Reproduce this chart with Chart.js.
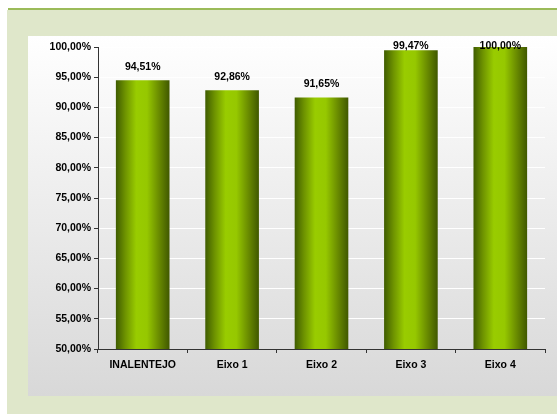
<!DOCTYPE html>
<html lang="pt">
<head>
  <meta charset="UTF-8">
  <title>Taxa de execução por eixo</title>
  <script src="https://cdn.jsdelivr.net/npm/chart.js"></script>
  <style>
    html, body { margin: 0; padding: 0; background: #ffffff; }
    #wrap { width: 557px; height: 414px; position: relative; }
    canvas { display: block; }
  </style>
</head>
<body>
  <div id="wrap"><canvas id="chart" width="557" height="414"></canvas></div>

  <script>
    const categories = ['INALENTEJO', 'Eixo 1', 'Eixo 2', 'Eixo 3', 'Eixo 4'];
    const values = [94.51, 92.86, 91.65, 99.47, 100.00];
    const yMin = 50;
    const yMax = 100;
    const yStep = 5;

    const pct = v => v.toFixed(2).replace('.', ',') + '%';
    const FONT = "'Liberation Sans', Arial, sans-serif";

    // frame: green band with a top rule, then a white-to-grey panel
    const background = {
      id: 'background',
      beforeDraw(chart) {
        const ctx = chart.ctx;
        const w = chart.width, h = chart.height;
        ctx.save();
        ctx.fillStyle = '#ffffff';
        ctx.fillRect(0, 0, w, h);
        ctx.fillStyle = '#dfe7ca';
        ctx.fillRect(7, 10, w - 7, h - 10);
        ctx.fillStyle = '#9bbb59';
        ctx.fillRect(8, 8, w - 8, 2);
        const g = ctx.createLinearGradient(0, 36, 0, 396);
        g.addColorStop(0, '#ffffff');
        g.addColorStop(1, '#d8d8d8');
        ctx.fillStyle = g;
        ctx.fillRect(28, 36, w - 28, 360);
        ctx.restore();
      }
    };

    // value labels over the bars, kept inside the plot area
    const valueLabels = {
      id: 'valueLabels',
      afterDatasetsDraw(chart) {
        const ctx = chart.ctx;
        const meta = chart.getDatasetMeta(0);
        ctx.save();
        ctx.font = 'bold 10.5px ' + FONT;
        ctx.fillStyle = '#000000';
        ctx.textAlign = 'center';
        ctx.textBaseline = 'middle';
        meta.data.forEach((bar, i) => {
          const y = Math.max(bar.y - 13.5, chart.chartArea.top - 1);
          ctx.fillText(pct(values[i]), bar.x, y);
        });
        ctx.restore();
      }
    };

    function barGradient(c) {
      const chart = c.chart;
      const xs = chart.scales.x;
      if (!xs || !chart.chartArea) return '#8cbf00';
      const cx = xs.getPixelForValue(c.dataIndex);
      const w = (xs.width / categories.length) * 0.6;
      const g = chart.ctx.createLinearGradient(cx - w / 2, 0, cx + w / 2, 0);
      g.addColorStop(0, '#3f5c00');
      g.addColorStop(0.18, '#6f9400');
      g.addColorStop(0.38, '#99cc00');
      g.addColorStop(0.58, '#96c800');
      g.addColorStop(0.8, '#6a8c00');
      g.addColorStop(1, '#405800');
      return g;
    }

    new Chart(document.getElementById('chart'), {
      type: 'bar',
      data: {
        labels: categories,
        datasets: [{
          data: values,
          backgroundColor: barGradient,
          borderWidth: 0,
          categoryPercentage: 1,
          barPercentage: 0.6
        }]
      },
      options: {
        responsive: false,
        animation: false,
        layout: { padding: { left: 28, right: 12, top: 47, bottom: 0 } },
        plugins: {
          legend: { display: false },
          tooltip: { enabled: false }
        },
        scales: {
          y: {
            min: yMin,
            max: yMax,
            afterFit(scale) { scale.width = 70; },
            ticks: {
              stepSize: yStep,
              padding: 3,
              color: '#000000',
              font: { family: FONT, size: 10.5, weight: 'bold' },
              callback: v => pct(v)
            },
            grid: { color: '#ffffff', tickColor: '#333333', tickLength: 4, lineWidth: 1 },
            border: { color: '#333333', width: 1 }
          },
          x: {
            afterFit(scale) { scale.height = 65; },
            ticks: {
              padding: 6,
              color: '#000000',
              font: { family: FONT, size: 10.5, weight: 'bold' }
            },
            grid: { drawOnChartArea: false, offset: true, tickColor: '#333333', tickLength: 4 },
            border: { color: '#333333', width: 1 }
          }
        }
      },
      plugins: [background, valueLabels]
    });
  </script>
</body>
</html>
